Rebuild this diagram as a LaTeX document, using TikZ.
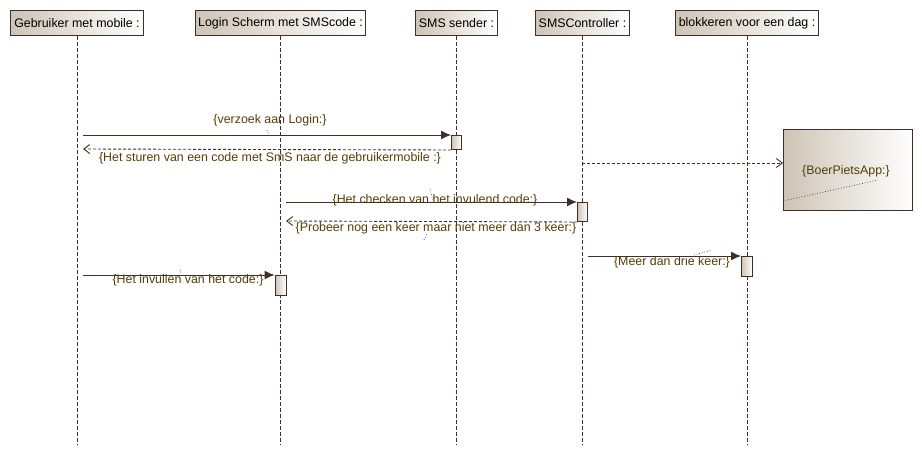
\documentclass[tikz,border=0pt]{standalone}
\usepackage{fontspec}
\setmainfont{Liberation Sans}
\usetikzlibrary{arrows.meta}
\definecolor{ln}{RGB}{62,48,40}
\definecolor{tanc}{RGB}{206,196,182}
\definecolor{lbl}{RGB}{82,62,5}
\begin{document}
\begin{tikzpicture}[x=1pt,y=-1pt,font=\fontsize{12.4}{14}\selectfont,
  headbox/.style={draw=ln,line width=1pt,left color=tanc,right color=white,minimum height=25pt,inner sep=0pt,anchor=north west},
  lifeline/.style={draw=ln,line width=0.9pt,dash pattern=on 4pt off 2pt},
  actbox/.style={draw=ln,line width=1pt,left color=tanc,right color=white,inner sep=0pt,anchor=north},
  callmsg/.style={draw=ln,line width=1pt,-{Latex[length=10pt,width=9pt]}},
  retmsg/.style={draw=ln,line width=0.9pt,dash pattern=on 3pt off 2pt,-{Straight Barb[length=6pt,width=9pt]}},
  lbltext/.style={text=lbl,inner sep=0pt},
  tick/.style={draw=ln,line width=0.7pt,dotted}]
\useasboundingbox (0,0) rectangle (922,455);
% headers
\node[headbox,minimum width=133pt] (h1) at (10,10) {Gebruiker met mobile :};
\node[headbox,minimum width=170pt] (h2) at (195,10) {Login Scherm met SMScode :};
\node[headbox,minimum width=82pt] (h3) at (415,10) {SMS sender :};
\node[headbox,minimum width=94pt] (h4) at (535,10) {SMSController :};
\node[headbox,minimum width=143pt] (h5) at (675,10) {blokkeren voor een dag :};
% lifeline ends
\coordinate (e1) at (h1.south |- 0,445);
\coordinate (e2) at (h2.south |- 0,445);
\coordinate (e3) at (h3.south |- 0,445);
\coordinate (e4) at (h4.south |- 0,445);
\coordinate (e5) at (h5.south |- 0,445);
\draw[lifeline] (h1.south) -- (e1);
\draw[lifeline] (h2.south) -- (e2);
\draw[lifeline] (h3.south) -- (e3);
\draw[lifeline] (h4.south) -- (e4);
\draw[lifeline] (h5.south) -- (e5);
% activation boxes
\node[actbox,minimum width=10pt,minimum height=14pt] (a1) at (h3.south |- 0,135) {};
\node[actbox,minimum width=10pt,minimum height=19pt] (a2) at (h4.south |- 0,202) {};
\node[actbox,minimum width=11pt,minimum height=20pt] (a3) at (h5.south |- 0,256) {};
\node[actbox,minimum width=11pt,minimum height=20pt] (a4) at (h2.south |- 0,275) {};
% BoerPietsApp box
\node[draw=ln,line width=1pt,left color=tanc,right color=white,minimum width=129pt,minimum height=81pt,anchor=north west,inner sep=0pt] (bp) at (783,129) {};
\node[lbltext] (bpl) at (846,171) {\{BoerPietsApp:\}};
\coordinate (bpd1) at (783,201);
\coordinate (bpd2) at (878,180);
\draw[tick] (bpd1) -- (bpd2);
% message endpoints
\coordinate (s1) at (83,135);
\coordinate (t2) at (83,149);
\coordinate (s3) at (582,163);
\coordinate (s4) at (286,202);
\coordinate (t5) at (286,221);
\coordinate (s6) at (588,256);
\coordinate (s7) at (83,275);
% messages
\draw[callmsg] (s1) -- (a1.north west);
\draw[retmsg] (a1.south west) -- (t2);
\draw[retmsg] (s3) -- (bp.west |- s3);
\draw[callmsg] (s4) -- (a2.north west);
\draw[retmsg] (a2.south west) -- (t5);
\draw[callmsg] (s6) -- (a3.north west);
\draw[callmsg] (s7) -- (a4.north west);
% labels
\node[lbltext] (l1) at (270,120) {\{verzoek aan Login:\}};
\node[lbltext] (l2) at (270,158) {\{Het sturen van een code met SmS naar de gebruikermobile :\}};
\node[lbltext] (l4) at (435,200) {\{Het checken van het invulend code:\}};
\node[lbltext] (l5) at (436,228) {\{Probeer nog een keer maar niet meer dan 3 keer:\}};
\node[lbltext] (l6) at (672,262) {\{Meer dan drie keer:\}};
\node[lbltext] (l7) at (188,280) {\{Het invullen van het code:\}};
% small label ticks
\draw[tick] (267,130) -- (269,135);
\draw[tick] (430,189) -- (433,201);
\draw[tick] (424,240) -- (427,234);
\draw[tick] (694,255) -- (712,250);
\draw[tick] (180,269) -- (181,274);
\end{tikzpicture}
\end{document}
